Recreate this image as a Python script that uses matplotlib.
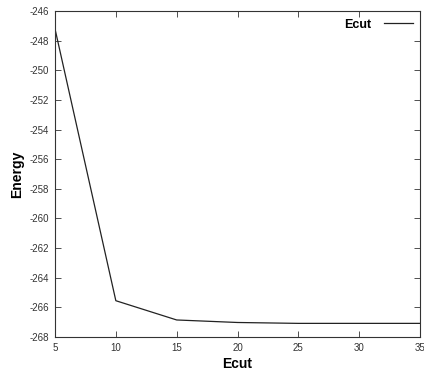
import matplotlib
matplotlib.use("Agg")
import matplotlib.pyplot as plt

ecut = [5, 10, 15, 20, 25, 30, 35]
energy = [-247.2, -265.55, -266.85, -267.02, -267.08, -267.08, -267.08]
xticks = [5, 10, 15, 20, 25, 30, 35]
yticks = [-246, -248, -250, -252, -254, -256, -258, -260, -262, -264, -266, -268]

plt.rcParams['font.family'] = ['Liberation Sans', 'DejaVu Sans']

fig = plt.figure(figsize=(4.24, 3.76), dpi=100)
ax = fig.add_axes([0.1297, 0.1037, 0.8610, 0.8670])
ax.plot(ecut, energy, color='#222222', lw=0.9, label='Ecut')
ax.set_xlim(5, 35)
ax.set_ylim(-268, -246)
ax.set_xticks(xticks)
ax.set_yticks(yticks)
ax.set_xticklabels([str(v) for v in xticks])
ax.set_yticklabels([str(v) for v in yticks])
ax.tick_params(direction='in', top=True, right=True, labelsize=7, length=4,
               width=0.6, colors='#333333', pad=4)
for s in ax.spines.values():
    s.set_linewidth(0.8)
    s.set_color('#333333')
ax.set_xlabel('Ecut', fontsize=10, fontweight='bold', labelpad=3)
ax.set_ylabel('Energy', fontsize=10, fontweight='bold', labelpad=4)
leg = ax.legend(loc='upper right', frameon=False,
                prop={'weight': 'bold', 'size': 9}, markerfirst=False,
                handlelength=2.3, handletextpad=1.0, borderaxespad=0.2,
                borderpad=0.4)
fig.savefig('out.png', dpi=100)
